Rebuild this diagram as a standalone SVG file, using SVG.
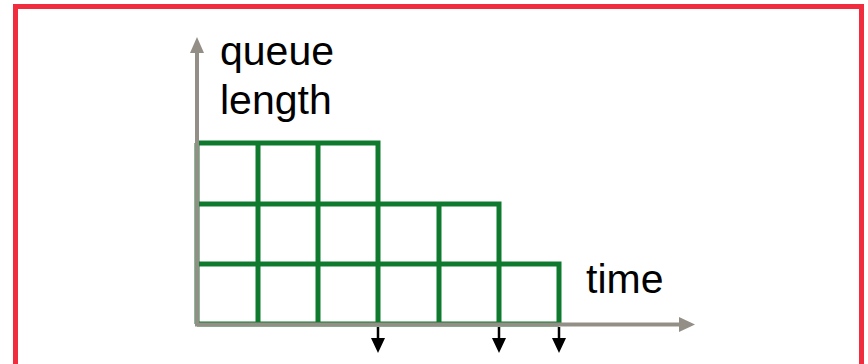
<svg xmlns="http://www.w3.org/2000/svg" width="868" height="364" viewBox="0 0 868 364">
<defs>
<style>
.lbl{font-family:"Liberation Sans",Arial,sans-serif;font-size:41px;fill:#000}
.ax{stroke:#948f86;stroke-width:4;fill:none}
.grid{stroke:#0f7a2e;stroke-width:5;fill:none;stroke-linejoin:miter}
.dep{stroke:#000;stroke-width:2.5;fill:none}
</style>
</defs>
<rect x="15.5" y="6.5" width="846" height="370" fill="#fff" stroke="#f02c3e" stroke-width="5"/>
<g id="grid">
<path class="grid" d="M197,143 H378 V324 M197,204 H499 V324 M197,264 H559 V324 M197,324 H559 M197,143 V324 M258,143 V324 M318,143 V324 M439,204 V324"/>
</g>
<g id="axes">
<line class="ax" x1="197" y1="326" x2="197" y2="52"/>
<path d="M190,53 L197,37 L204,53 Z" fill="#948f86"/>
<line class="ax" x1="195" y1="324.5" x2="680" y2="324.5"/>
<path d="M679,317 L695,324.5 L679,332 Z" fill="#948f86"/>
</g>
<g id="connectors">
<line class="dep" x1="378" y1="327" x2="378" y2="340"/>
<path d="M371,338 L385,338 L378,353 Z"/>
<line class="dep" x1="499" y1="327" x2="499" y2="340"/>
<path d="M492,338 L506,338 L499,353 Z"/>
<line class="dep" x1="559" y1="327" x2="559" y2="340"/>
<path d="M552,338 L566,338 L559,353 Z"/>
</g>
<g id="labels">
<text class="lbl" x="220" y="65">queue</text>
<text class="lbl" x="220" y="114">length</text>
<text class="lbl" x="586" y="293">time</text>
</g>
</svg>
